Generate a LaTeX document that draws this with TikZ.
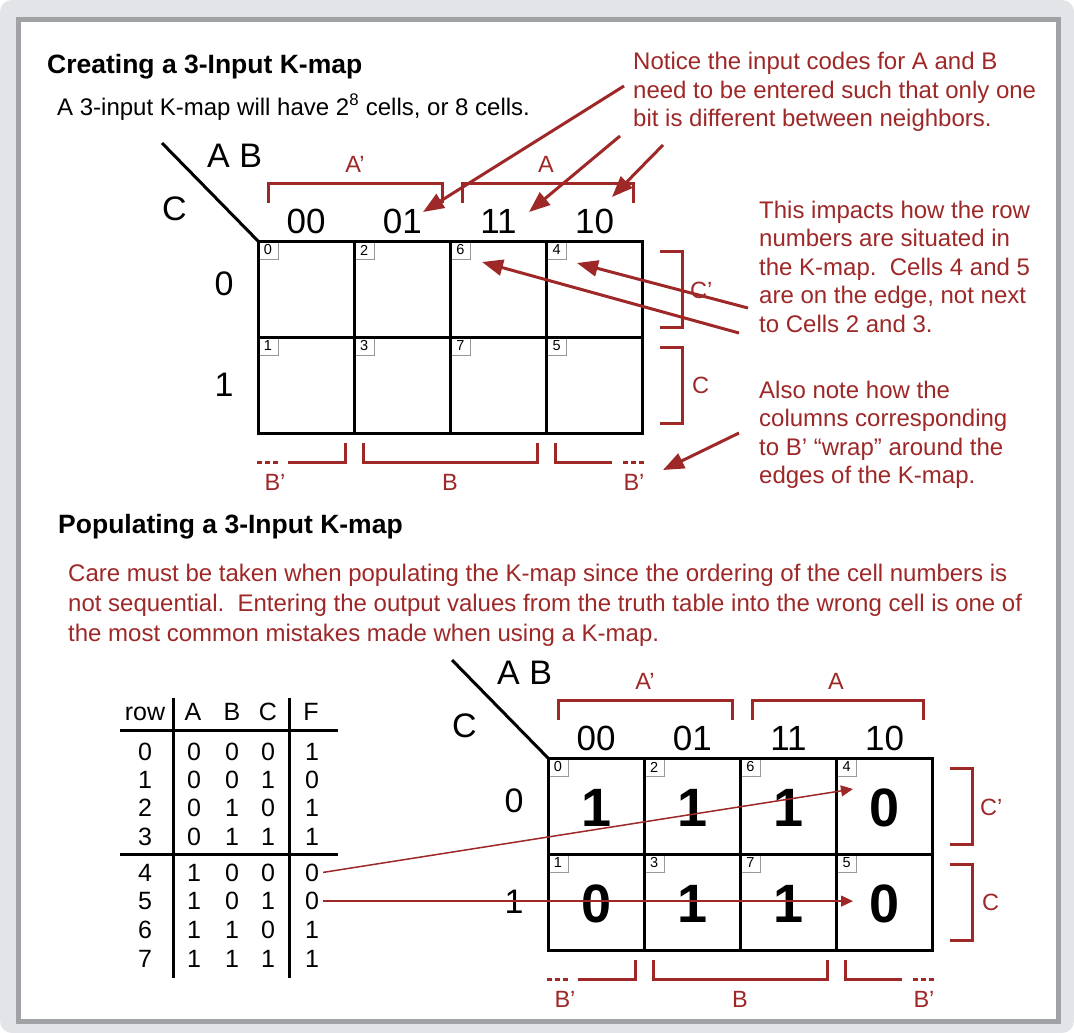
\documentclass[tikz,border=0pt]{standalone}
\usepackage{fontspec}
\setmainfont{Liberation Sans}
\usetikzlibrary{arrows.meta}
\definecolor{kred}{RGB}{158,40,40}
\definecolor{outerg}{RGB}{226,228,231}
\definecolor{borderg}{RGB}{160,162,165}
\newcommand\textlines[1]{\vtop{\halign{##\hfil\cr#1\crcr}}}
\newcommand\fsz[2]{\fontsize{#1}{#2}\selectfont}
\newcommand\kmapbody[1]{%
  \draw[kline] (-96,-98) -- (0,0);
  \node[hdr,anchor=base west] (#1AB) at (-51,-74) {A B};
  \node[hdr,anchor=base west] (#1C) at (-96,-21) {C};
  \foreach \lab [count=\i from 0] in {00,01,11,10}
    \node[hdrd,anchor=base] (#1h\i) at ({96.2*\i+48.1},-8) {\lab};
  \node[hdr,anchor=base] (#1r0) at (-34,54) {0};
  \node[hdr,anchor=base] (#1r1) at (-34,155) {1};
  \foreach \cnum [count=\i from 0] in {0,2,6,4}
    \node[cell] (#1c\cnum) at ({96.2*\i+48.1},48) {};
  \foreach \cnum [count=\i from 0] in {1,3,7,5}
    \node[cell] (#1c\cnum) at ({96.2*\i+48.1},144) {};
  \foreach \cnum in {0,...,7}
    \node[numbox] (#1n\cnum) at (#1c\cnum.north west) {\cnum};
  \foreach \cnum in {0,...,7}
    \draw[kline] (#1c\cnum.north west) rectangle (#1c\cnum.south east);
  % top brackets
  \draw[brk] (10,-38) -- (10,-58) -- (184,-58) -- (184,-38);
  \draw[brk] (204,-38) -- (204,-58) -- (375,-58) -- (375,-38);
  \node[lbl,anchor=base] (#1Ap) at (97,-69) {A’};
  \node[lbl,anchor=base] (#1A) at (288,-69) {A};
  % right brackets
  \draw[brk] (402,10) -- (424,10) -- (424,86) -- (402,86);
  \draw[brk] (402,106) -- (424,106) -- (424,182) -- (402,182);
  \node[lbl,anchor=west] (#1Cp) at (432,49) {C’};
  \node[lbl,anchor=west] (#1Cc) at (434,144) {C};
  % bottom brackets
  \draw[brk,dash pattern=on 5pt off 3pt] (-1,221) -- (20,221);
  \draw[brk] (30,221) -- (87,221) -- (87,202);
  \draw[brk] (105,202) -- (105,221) -- (279,221) -- (279,202);
  \draw[brk] (297,202) -- (297,221) -- (354,221);
  \draw[brk,dash pattern=on 5pt off 3pt] (365,221) -- (387,221);
  \node[lbl,anchor=base] (#1Bp1) at (17,249) {B’};
  \node[lbl,anchor=base] (#1B) at (192,249) {B};
  \node[lbl,anchor=base] (#1Bp2) at (376,249) {B’};
}
\begin{document}
\begin{tikzpicture}[x=1pt,y=-1pt,
  kline/.style={line width=3pt,black},
  brk/.style={line width=3pt,kred},
  hdr/.style={inner sep=0,font=\fsz{34}{34}},
  hdrd/.style={inner sep=0,font=\fsz{35}{35}},
  lbl/.style={inner sep=0,text=kred,font=\fsz{23.5}{23.5}},
  cell/.style={minimum width=96.2pt,minimum height=96pt,inner sep=0,outer sep=0},
  numbox/.style={anchor=north west,draw=gray!80,line width=0.8pt,minimum width=20pt,minimum height=18pt,inner sep=0,outer sep=0,font=\fsz{14.5}{14.5}},
  redtxt/.style={text=kred,inner sep=0,anchor=base west,font=\fsz{24}{28.5}},
  titlef/.style={inner sep=0,anchor=base west,font=\bfseries\fsz{26.5}{30}},
  bigarrow/.style={kred,line width=3pt,-{Triangle[length=21pt,width=16pt]}},
  thinarrow/.style={kred,line width=1.5pt,-{Triangle[length=12pt,width=11pt]}},
  tbl/.style={line width=3pt,black},
  tt/.style={inner sep=0,anchor=base,font=\fsz{25}{25}},
  big/.style={inner sep=0,font=\bfseries\fsz{54}{54}}]
\useasboundingbox (0,0) rectangle (1074,1033);
\fill[outerg,rounded corners=12pt] (0,0) rectangle (1074,1033);
\draw[borderg,line width=5pt,fill=white] (18,20) rectangle (1058,1021);

% ---------- top section ----------
\node[titlef] (t1) at (47,74) {Creating a 3-Input K-map};
\node[inner sep=0,anchor=base west,font=\fsz{24}{24}] (sub1) at (57,115) {A 3-input K-map will have 2\textsuperscript{8} cells, or 8 cells.};

\begin{scope}[shift={(258,241)}]
  \kmapbody{a}
\end{scope}

\node[redtxt] (n1) at (633,70) {\textlines{Notice the input codes for A and B\cr need to be entered such that only one\cr bit is different between neighbors.}};
\node[redtxt] (n2) at (759,218) {\textlines{This impacts how the row\cr numbers are situated in\cr the K-map.\ \ Cells 4 and 5\cr are on the edge, not next\cr to Cells 2 and 3.}};
\node[redtxt] (n3) at (759,398) {\textlines{Also note how the\cr columns corresponding\cr to B’ “wrap” around the\cr edges of the K-map.}};

\coordinate (a1s) at (624,86);  \coordinate (a1e) at (423,212);
\coordinate (a2s) at (620,136); \coordinate (a2e) at (529,212);
\coordinate (a3s) at (663,145); \coordinate (a3e) at (612,197);
\coordinate (a4s) at (748,308); \coordinate (a4e) at (577,263);
\coordinate (a5s) at (739,333); \coordinate (a5e) at (482,262);
\coordinate (a6s) at (739,433); \coordinate (a6e) at (663,470);
\draw[bigarrow] (a1s) -- (a1e);
\draw[bigarrow] (a2s) -- (a2e);
\draw[bigarrow] (a3s) -- (a3e);
\draw[bigarrow] (a4s) -- (a4e);
\draw[bigarrow] (a5s) -- (a5e);
\draw[bigarrow] (a6s) -- (a6e);

% ---------- bottom section ----------
\node[titlef] (t2) at (58,533) {Populating a 3-Input K-map};
\node[redtxt,font=\fsz{24}{30}] (p2) at (68,581) {\textlines{Care must be taken when populating the K-map since the ordering of the cell numbers is\cr not sequential.\ \ Entering the output values from the truth table into the wrong cell is one of\cr the most common mistakes made when using a K-map.}};

% truth table
\node[tt] (thr) at (145,720) {row};
\node[tt] (tha) at (193,720) {A};
\node[tt] (thb) at (232,720) {B};
\node[tt] (thc) at (268,720) {C};
\node[tt] (thf) at (311,720) {F};
\foreach \r/\yy/\fv in {0/760/1,1/788.4/0,2/816.8/1,3/845.2/1,4/881/0,5/909.7/0,6/938.3/1,7/967/1}{
  \pgfmathtruncatemacro{\ba}{\r/4}
  \pgfmathtruncatemacro{\bb}{mod(\r,4)/2}
  \pgfmathtruncatemacro{\bc}{mod(\r,2)}
  \node[tt] (tR\r) at (145,\yy) {\r};
  \node[tt] (tA\r) at (194,\yy) {\ba};
  \node[tt] (tB\r) at (232,\yy) {\bb};
  \node[tt] (tC\r) at (268,\yy) {\bc};
  \node[tt] (tF\r) at (312,\yy) {\fv};
}
\draw[tbl] (120,730) -- (338,730);
\draw[tbl] (120,854) -- (338,854);
\draw[tbl] (173,698) -- (173,978);
\draw[tbl] (289,698) -- (289,978);

\begin{scope}[shift={(548,758)}]
  \kmapbody{b}
\end{scope}
\foreach \cnum/\v in {0/1,2/1,6/1,4/0,1/0,3/1,7/1,5/0}
  \node[big] (bv\cnum) at ([yshift=-2pt]bc\cnum.center) {\v};

\coordinate (b4tip) at (853,789);
\coordinate (b5tip) at (853,903);
\draw[thinarrow] ([xshift=4pt]tF4.east) -- (b4tip);
\draw[thinarrow] ([xshift=4pt]tF5.east) -- (tF5.east -| b5tip);
\end{tikzpicture}
\end{document}
